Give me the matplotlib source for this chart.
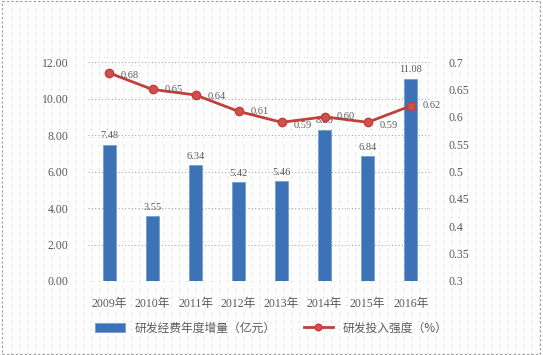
import numpy as np
import matplotlib.pyplot as plt

years = ['2009年', '2010年', '2011年', '2012年', '2013年', '2014年', '2015年', '2016年']
increase = [7.48, 3.55, 6.34, 5.42, 5.46, 8.29, 6.84, 11.08]
intensity = [0.68, 0.65, 0.64, 0.61, 0.59, 0.60, 0.59, 0.62]

plt.rcParams['font.family'] = ['Liberation Serif', 'Noto Sans CJK SC']
text_col = '#595959'
bar_col = '#3D73B6'
line_col = '#C0403C'

fig = plt.figure(figsize=(5.43, 3.55), dpi=100)

# dotted background texture + dashed border
bg = fig.add_axes([0, 0, 1, 1])
h, w = 355, 543
pattern = np.ones((h, w))
pattern[2::8, 3::8] = 0.78
bg.imshow(pattern, cmap='gray', vmin=0, vmax=1, aspect='auto', interpolation='nearest')
bg.set_xlim(0, w)
bg.set_ylim(h, 0)
bg.axis('off')
fig.patches.append(plt.Rectangle((0.003, 0.004), 0.992, 0.992, transform=fig.transFigure,
                                 fill=False, ec='#9a9a9a', lw=0.8, ls=(0, (2, 2))))

ax = fig.add_axes([0.162, 0.2085, 0.634, 0.6165])
ax.patch.set_alpha(0)
x = np.arange(len(years))
bars = ax.bar(x, increase, width=0.3, color=bar_col, edgecolor='#6a9ad0', lw=0.5,
              label='研发经费年度增量（亿元）', zorder=2)
ax.set_ylim(0, 12)
ax.set_yticks(np.arange(0, 12.01, 2))
ax.set_yticklabels([f'{v:.2f}' for v in np.arange(0, 12.01, 2)])
ax.set_xlim(-0.5, len(years) - 0.5)
ax.set_xticks(x)
ax.set_xticklabels(years)
ax.grid(axis='y', color='#a6a6a6', ls=(0, (1, 2)), lw=0.8, zorder=0)
for s in ax.spines.values():
    s.set_visible(False)
ax.tick_params(length=0, colors=text_col, labelsize=8.5)
ax.tick_params(axis='x', pad=12)
ax.tick_params(axis='y', pad=14)
for xi, v in zip(x, increase):
    ax.text(xi, v + 0.25, f'{v:.2f}', ha='center', va='bottom', fontsize=7.5, color=text_col)

ax2 = ax.twinx()
ax2.set_ylim(0.3, 0.7)
ticks2 = np.round(np.arange(0.3, 0.701, 0.05), 2)
ax2.set_yticks(ticks2)
ax2.set_yticklabels([f'{t:g}' for t in ticks2])
for s in ax2.spines.values():
    s.set_visible(False)
ax2.tick_params(length=0, colors=text_col, labelsize=8.5, pad=12)
line, = ax2.plot(x, intensity, color=line_col, lw=2, marker='o', ms=6,
                 mfc='#D0514C', mec=line_col, label='研发投入强度（%）', zorder=3)
offsets = [(0, -0.004), (0, 0), (0, -0.002), (0, 0), (0, -0.006), (0, 0), (0, -0.006), (0, 0)]
for xi, v, (dx, dy) in zip(x, intensity, offsets):
    ax2.text(xi + 0.27 + dx, v + dy, f'{v:.2f}', ha='left', va='center', fontsize=7.5, color=text_col)

leg = fig.legend([bars, line], ['研发经费年度增量（亿元）', '研发投入强度（%）'],
                 loc='center', bbox_to_anchor=(0.5, 0.076), ncol=2, frameon=False,
                 prop={'family': ['Noto Sans CJK SC'], 'size': 8.5}, labelcolor=text_col,
                 handlelength=2.5, columnspacing=2.4, markerscale=0.8)

fig.savefig('out.png', dpi=100)
